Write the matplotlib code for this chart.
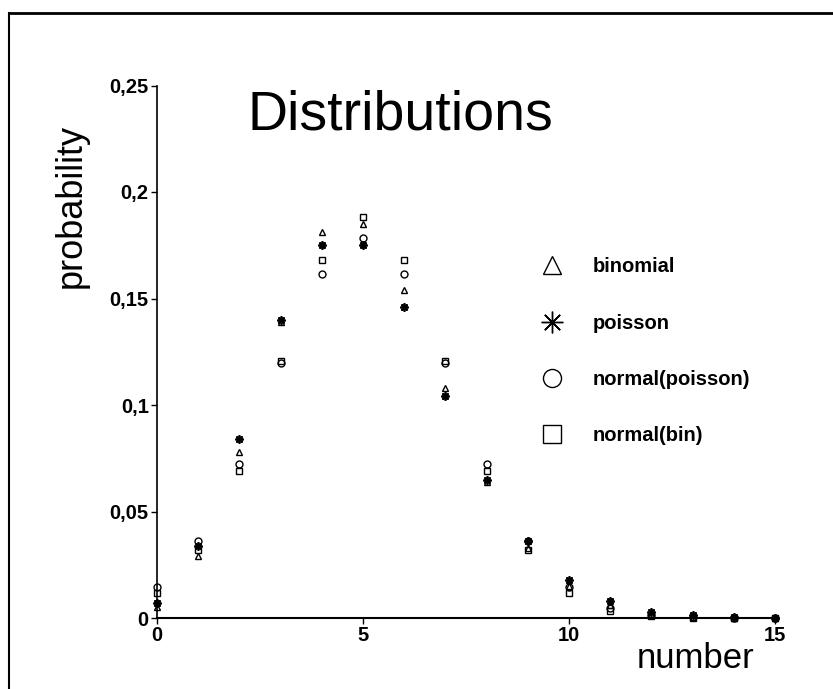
import numpy as np
import matplotlib
matplotlib.use("Agg")
import matplotlib.pyplot as plt
from matplotlib.lines import Line2D

plt.rcParams['font.family'] = ['Liberation Sans', 'DejaVu Sans']

# values
number = [0, 1, 2, 3, 4, 5, 6, 7, 8, 9, 10, 11, 12, 13, 14, 15]
binomial = [0.005, 0.029, 0.078, 0.139, 0.181, 0.185, 0.154, 0.108,
            0.064, 0.033, 0.015, 0.006, 0.002, 0.0007, 0.0002, 0.0001]
poisson = [0.007, 0.034, 0.084, 0.140, 0.175, 0.175, 0.146, 0.104,
           0.065, 0.036, 0.018, 0.008, 0.003, 0.0013, 0.0005, 0.0002]
normal_poisson = [0.0146, 0.036, 0.0725, 0.1196, 0.1614, 0.1784, 0.1614, 0.1196,
                  0.0725, 0.036, 0.0146, 0.0049, 0.0013, 0.0003, 0.0001, 0.0]
normal_bin = [0.0117, 0.0318, 0.0692, 0.1206, 0.1683, 0.1881, 0.1683, 0.1206,
              0.0692, 0.0318, 0.0117, 0.0035, 0.0008, 0.0002, 0.0, 0.0]

yticks = [0, 0.05, 0.1, 0.15, 0.2, 0.25]
ytick_labels = ['0', '0,05', '0,1', '0,15', '0,2', '0,25']
xticks = [0, 5, 10, 15]

fig = plt.figure(figsize=(8.33, 6.89), dpi=100)
ax = fig.add_axes([157/833, 71/689, 618/833, 532.5/689])

ms = 5
ax.plot(number, binomial, ls='none', marker='^', ms=ms, mfc='none', mec='black', mew=1.0,
        clip_on=False, label='binomial')
ax.plot(number, poisson, ls='none', marker=(8, 2, 0), ms=ms + 1, mec='black', mew=1.3,
        clip_on=False, label='poisson')
ax.plot(number, normal_poisson, ls='none', marker='o', ms=ms, mfc='none', mec='black', mew=1.0,
        clip_on=False, label='normal(poisson)')
ax.plot(number, normal_bin, ls='none', marker='s', ms=ms, mfc='none', mec='black', mew=1.0,
        clip_on=False, label='normal(bin)')

ax.set_xlim(0, 15)
ax.set_ylim(0, 0.25)
ax.set_xticks(xticks)
ax.set_yticks(yticks)
ax.set_yticklabels(ytick_labels)
ax.spines['top'].set_visible(False)
ax.spines['right'].set_visible(False)
ax.spines['left'].set_linewidth(1.2)
ax.spines['bottom'].set_linewidth(1.5)
ax.tick_params(direction='out', length=4, width=1, labelsize=14.5, pad=2)
for lab in ax.get_xticklabels() + ax.get_yticklabels():
    lab.set_fontweight('bold')

leg = ax.legend(loc='upper left', bbox_to_anchor=(0.623, 0.677), frameon=False,
                prop={'size': 14.5, 'weight': 'bold'}, markerscale=2.6,
                borderpad=0, borderaxespad=0, handlelength=1.0, handletextpad=1.5,
                labelspacing=1.84)
for h in leg.legend_handles:
    h.set_markeredgewidth(1.0)

fig.text(248/833, 1 - 130/689, 'Distributions', fontsize=40, va='baseline', ha='left')
fig.text(71/833, 1 - 206/689, 'probability', fontsize=26, rotation=90, ha='center', va='center')
fig.text(637/833, 1 - 668/689, 'number', fontsize=25, ha='left', va='baseline')

# scanned page border (top and left edges only)
fig.add_artist(Line2D([9/833, 9/833], [0, 1 - 13/689], color='black', lw=1.5))
fig.add_artist(Line2D([9/833, 1], [1 - 13/689, 1 - 13/689], color='black', lw=2))

fig.savefig('out.png', dpi=100)
